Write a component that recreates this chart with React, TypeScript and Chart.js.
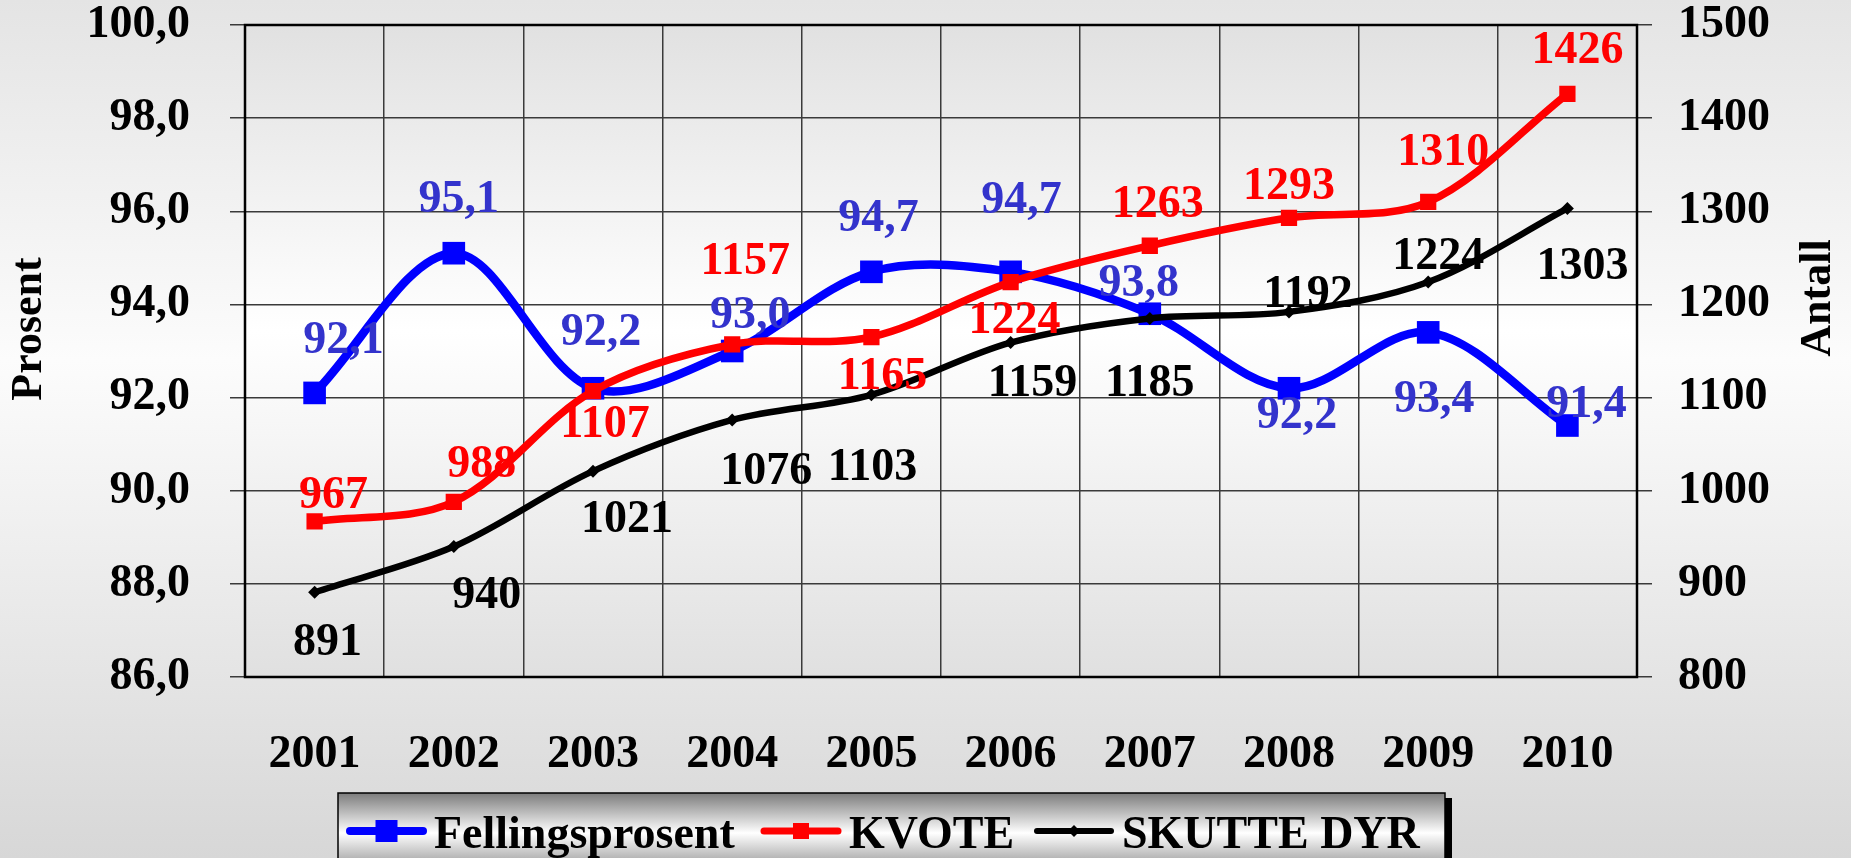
import React, { useEffect, useRef } from 'react';
import { Chart, registerables } from 'chart.js';

Chart.register(...registerables);

// ---- data ----
const years = ['2001', '2002', '2003', '2004', '2005', '2006', '2007', '2008', '2009', '2010'];
const fellingsprosent = [92.1, 95.1, 92.2, 93.0, 94.7, 94.7, 93.8, 92.2, 93.4, 91.4];
const kvote = [967, 988, 1107, 1157, 1165, 1224, 1263, 1293, 1310, 1426];
const skutteDyr = [891, 940, 1021, 1076, 1103, 1159, 1185, 1192, 1224, 1303];
const seriesNames = ['Fellingsprosent', 'KVOTE', 'SKUTTE DYR'];
const leftAxisTitle = 'Prosent';
const rightAxisTitle = 'Antall';
const leftRange = [86, 100, 2];
const rightRange = [800, 1500, 100];

// ---- label placement (px offsets of the label's digit centre from the point) ----
const fellingsLabelOffsets = [[29, -55], [5, -57], [8, -59], [18, -39], [7, -56], [11, -74], [-11, -33], [8, 24], [6, 64], [19, -24]];
const kvoteLabelOffsets = [[19, -29], [28, -40], [12, 30], [13, -86], [11, 36], [4, 35], [8, -44], [0, -34], [15, -52], [10, -46]];
const skutteLabelOffsets = [[13, 47], [33, 46], [34, 45], [34, 49], [1, 70], [22, 38], [0, 62], [19, -20], [10, -29], [15, 55]];

const W = 1851;
const H = 858;
const FONT = '"Liberation Serif", "Times New Roman", serif';
const fmtComma = (v: number) => v.toFixed(1).replace('.', ',');

const bgPlugin = {
  id: 'bgPlugin',
  beforeDraw(chart: any) {
    const { ctx, chartArea } = chart;
    ctx.save();
    const g = ctx.createLinearGradient(0, 0, 0, H);
    g.addColorStop(0, '#e4e4e4');
    g.addColorStop(0.42, '#fcfcfc');
    g.addColorStop(1, '#d7d7d7');
    ctx.fillStyle = g;
    ctx.fillRect(0, 0, W, H);
    const pg = ctx.createLinearGradient(0, chartArea.top, 0, chartArea.bottom);
    pg.addColorStop(0, '#e1e1e1');
    pg.addColorStop(0.47, '#ffffff');
    pg.addColorStop(1, '#e0e0e0');
    ctx.fillStyle = pg;
    ctx.fillRect(chartArea.left, chartArea.top, chartArea.right - chartArea.left, chartArea.bottom - chartArea.top);
    ctx.restore();
  },
  beforeDatasetsDraw(chart: any) {
    const { ctx, chartArea } = chart;
    ctx.save();
    ctx.strokeStyle = '#000';
    ctx.lineWidth = 2.5;
    ctx.strokeRect(chartArea.left, chartArea.top, chartArea.right - chartArea.left, chartArea.bottom - chartArea.top);
    ctx.restore();
  },
};

const labelPlugin = {
  id: 'labelPlugin',
  afterDatasetsDraw(chart: any) {
    const { ctx } = chart;
    const specs = [
      { idx: 0, offsets: fellingsLabelOffsets, color: '#3333cc', fmt: fmtComma },
      { idx: 1, offsets: kvoteLabelOffsets, color: '#ff0000', fmt: (v: number) => String(v) },
      { idx: 2, offsets: skutteLabelOffsets, color: '#000000', fmt: (v: number) => String(v) },
    ];
    ctx.save();
    ctx.font = `bold 46px ${FONT}`;
    ctx.textAlign = 'center';
    ctx.textBaseline = 'alphabetic';
    specs.forEach((s) => {
      const meta = chart.getDatasetMeta(s.idx);
      const data = chart.data.datasets[s.idx].data;
      meta.data.forEach((pt: any, i: number) => {
        const [dx, dy] = s.offsets[i];
        ctx.fillStyle = s.color;
        ctx.fillText(s.fmt(data[i]), pt.x + dx, pt.y + dy + 15.5);
      });
    });
    ctx.restore();
  },
  afterDraw(chart: any) {
    const { ctx } = chart;
    ctx.save();
    // axis titles
    ctx.font = `bold 44px ${FONT}`;
    ctx.fillStyle = '#000';
    ctx.textAlign = 'center';
    ctx.textBaseline = 'middle';
    ctx.save();
    ctx.translate(30, 329);
    ctx.rotate(-Math.PI / 2);
    ctx.fillText(leftAxisTitle, 0, 0);
    ctx.restore();
    ctx.save();
    ctx.translate(1819, 298);
    ctx.rotate(-Math.PI / 2);
    ctx.fillText(rightAxisTitle, 0, 0);
    ctx.restore();

    // legend box
    const bx = 338, by = 793, bw = 1107, bh = 90;
    ctx.fillStyle = '#000';
    ctx.fillRect(bx + 7, by + 5, bw, bh);
    const lg = ctx.createLinearGradient(0, by, 0, by + 80);
    lg.addColorStop(0, '#7c7c7c');
    lg.addColorStop(0.5, '#ffffff');
    lg.addColorStop(1, '#8a8a8a');
    ctx.fillStyle = lg;
    ctx.fillRect(bx, by, bw, bh);
    ctx.strokeStyle = '#000';
    ctx.lineWidth = 1.5;
    ctx.strokeRect(bx, by, bw, bh);

    const ly = 831;
    const items = [
      { x0: 350, x1: 423, color: '#0000ff', lw: 8, marker: 'rect', size: 22, tx: 434 },
      { x0: 764, x1: 838, color: '#ff0000', lw: 7, marker: 'rect', size: 16, tx: 849 },
      { x0: 1037, x1: 1111, color: '#000000', lw: 6, marker: 'diamond', size: 6, tx: 1122 },
    ];
    items.forEach((it, i) => {
      ctx.strokeStyle = it.color;
      ctx.lineWidth = it.lw;
      ctx.lineCap = 'round';
      ctx.beginPath();
      ctx.moveTo(it.x0, ly);
      ctx.lineTo(it.x1, ly);
      ctx.stroke();
      const cx = (it.x0 + it.x1) / 2;
      ctx.fillStyle = it.color;
      if (it.marker === 'rect') {
        ctx.fillRect(cx - it.size / 2, ly - it.size / 2, it.size, it.size);
      } else {
        ctx.beginPath();
        ctx.moveTo(cx, ly - it.size);
        ctx.lineTo(cx + it.size, ly);
        ctx.lineTo(cx, ly + it.size);
        ctx.lineTo(cx - it.size, ly);
        ctx.closePath();
        ctx.fill();
      }
      ctx.fillStyle = '#000';
      ctx.font = `bold 46px ${FONT}`;
      ctx.textAlign = 'left';
      ctx.textBaseline = 'alphabetic';
      ctx.fillText(seriesNames[i], it.tx, 848);
    });
    ctx.restore();
  },
};

export default function App() {
  const ref = useRef<HTMLCanvasElement | null>(null);
  useEffect(() => {
    if (!ref.current) return;
    const tickFont = { family: FONT, size: 46, weight: 'bold' as const };
    const chart = new Chart(ref.current, {
      type: 'line',
      data: {
        labels: years,
        datasets: [
          {
            label: seriesNames[0],
            data: fellingsprosent,
            yAxisID: 'y',
            borderColor: '#0000ff',
            backgroundColor: '#0000ff',
            borderWidth: 8.5,
            pointStyle: 'rect',
            pointRadius: 16,
            pointBorderWidth: 0,
            tension: 0.33,
            order: 2,
          },
          {
            label: seriesNames[1],
            data: kvote,
            yAxisID: 'y1',
            borderColor: '#ff0000',
            backgroundColor: '#ff0000',
            borderWidth: 7.5,
            pointStyle: 'rect',
            pointRadius: 11.5,
            pointBorderWidth: 0,
            tension: 0.33,
            order: 0,
          },
          {
            label: seriesNames[2],
            data: skutteDyr,
            yAxisID: 'y1',
            borderColor: '#000000',
            backgroundColor: '#000000',
            borderWidth: 6.5,
            pointStyle: 'rectRot',
            pointRadius: 6.5,
            pointBorderWidth: 0,
            tension: 0.33,
            order: 1,
          },
        ],
      },
      options: {
        responsive: false,
        animation: false,
        devicePixelRatio: 1,
        layout: { padding: { top: 25, left: 0, right: 0, bottom: 0 } },
        plugins: {
          legend: { display: false },
          tooltip: { enabled: false },
        },
        scales: {
          x: {
            type: 'category',
            offset: true,
            afterFit: (s: any) => { s.height = 181; s.paddingLeft = 0; s.paddingRight = 0; },
            grid: { offset: true, color: '#3a3a3a', lineWidth: 1.5, drawTicks: false },
            border: { display: false },
            ticks: { font: tickFont, color: '#000', padding: 51, maxRotation: 0, autoSkip: false },
          },
          y: {
            position: 'left',
            min: leftRange[0],
            max: leftRange[1],
            afterFit: (s: any) => { s.width = 245; s.paddingTop = 0; s.paddingBottom = 0; },
            grid: { color: '#3a3a3a', lineWidth: 1.5, drawTicks: true, tickLength: 15, tickColor: '#3a3a3a' },
            border: { display: false },
            ticks: { stepSize: leftRange[2], font: tickFont, color: '#000', padding: 40, callback: (v: any) => fmtComma(Number(v)) },
          },
          y1: {
            position: 'right',
            min: rightRange[0],
            max: rightRange[1],
            afterFit: (s: any) => { s.width = W - 1637; s.paddingTop = 0; s.paddingBottom = 0; },
            grid: { drawOnChartArea: false, color: '#3a3a3a', lineWidth: 1.5, drawTicks: true, tickLength: 15 },
            border: { display: false },
            ticks: { stepSize: rightRange[2], font: tickFont, color: '#000', padding: 26, callback: (v: any) => String(v) },
          },
        },
      },
      plugins: [bgPlugin, labelPlugin],
    });
    return () => chart.destroy();
  }, []);
  return (
    <div style={{ position: 'absolute', left: 0, top: 0, width: W, height: H, overflow: 'hidden' }}>
      <canvas ref={ref} width={W} height={H} style={{ display: 'block' }} />
    </div>
  );
}
